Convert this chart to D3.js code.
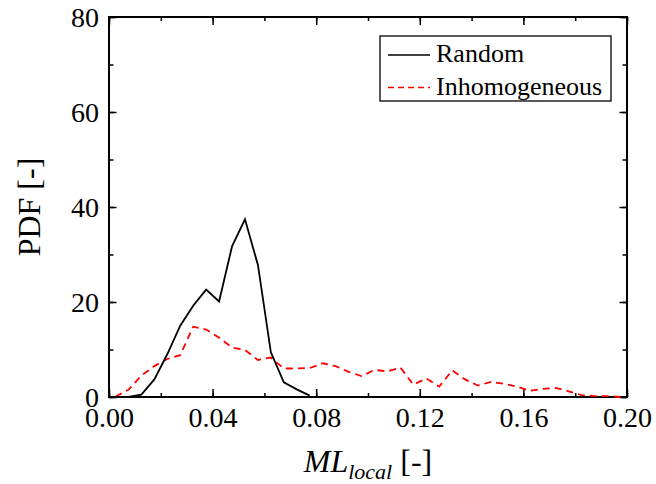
<!DOCTYPE html>
<html>
<head>
<meta charset="utf-8">
<script src="https://cdn.jsdelivr.net/npm/d3@7"></script>
<style>
  html, body { margin: 0; padding: 0; background: #fff; }
  svg { display: block; }
  text { font-family: "Liberation Serif", "Times New Roman", serif; fill: #000; }
</style>
</head>
<body>
<script>
// ---- data ----
const binCenters = d3.range(40).map(k => +(0.0025 + 0.005 * k).toFixed(4));
const randomValues = [0, 0, 0.5, 3.7, 9.0, 15.0, 19.2, 22.6, 20.1, 31.7, 37.4, 27.8, 9.4, 3.1, 1.6, 0.3];
const inhomValues = [0.1, 1.5, 4.5, 6.5, 8.0, 8.8, 14.8, 14.2, 12.5, 10.4,
                     9.9, 7.8, 8.3, 6.0, 6.0, 6.1, 7.1, 6.5, 5.3, 4.4,
                     5.7, 5.4, 6.2, 2.6, 3.9, 2.2, 5.6, 3.7, 2.4, 3.2,
                     2.8, 2.2, 1.3, 1.7, 1.9, 1.2, 0.4, 0.2, 0.2, 0.0];
const seriesNames = ["Random", "Inhomogeneous"];
const xTickValues = [0, 0.04, 0.08, 0.12, 0.16, 0.20];
const yTickValues = [0, 20, 40, 60, 80];

// ---- layout ----
const W = 656, H = 484;
const m = { left: 109, right: 656 - 627, top: 17, bottom: 484 - 397 };
const iw = W - m.left - m.right, ih = H - m.top - m.bottom;

const svg = d3.select("body").append("svg").attr("width", W).attr("height", H);
const g = svg.append("g").attr("transform", `translate(${m.left},${m.top})`);

const x = d3.scaleLinear().domain([0, 0.2]).range([0, iw]);
const y = d3.scaleLinear().domain([0, 80]).range([ih, 0]);

const xMinor = d3.range(0, 0.2001, 0.02);
const yMinor = d3.range(0, 80.001, 10);

function styleAxis(sel) {
  sel.attr("font-family", null);
  sel.select(".domain").remove();
  sel.selectAll("line").attr("stroke", "#000").attr("stroke-width", 1.5);
  sel.selectAll("text").style("font-size", "28px").style("font-family", "'Liberation Serif', serif");
}

// minor ticks
g.append("g").attr("transform", `translate(0,${ih})`)
  .call(d3.axisBottom(x).tickValues(xMinor).tickSize(-4).tickFormat(""))
  .call(styleAxis);
g.append("g")
  .call(d3.axisTop(x).tickValues(xMinor).tickSize(-4).tickFormat(""))
  .call(styleAxis);
g.append("g")
  .call(d3.axisLeft(y).tickValues(yMinor).tickSize(-4.5).tickFormat(""))
  .call(styleAxis);
g.append("g").attr("transform", `translate(${iw},0)`)
  .call(d3.axisRight(y).tickValues(yMinor).tickSize(-4.5).tickFormat(""))
  .call(styleAxis);

// major ticks with labels
const xa = g.append("g").attr("transform", `translate(0,${ih})`)
  .call(d3.axisBottom(x).tickValues(xTickValues).tickSize(-8).tickPadding(14).tickFormat(d3.format(".2f")))
  .call(styleAxis);
xa.selectAll("text").attr("dy", "0.71em").attr("y", 10);
g.append("g")
  .call(d3.axisTop(x).tickValues(xTickValues).tickSize(-8).tickFormat(""))
  .call(styleAxis);
const ya = g.append("g")
  .call(d3.axisLeft(y).tickValues(yTickValues).tickSize(-7.5).tickPadding(0).tickFormat(d3.format("d")))
  .call(styleAxis);
ya.selectAll("text").attr("x", -10).attr("dy", "0.34em");
g.append("g").attr("transform", `translate(${iw},0)`)
  .call(d3.axisRight(y).tickValues(yTickValues).tickSize(-7.5).tickFormat(""))
  .call(styleAxis);

// frame
g.append("rect").attr("x", 0).attr("y", 0).attr("width", iw).attr("height", ih)
  .attr("fill", "none").attr("stroke", "#000").attr("stroke-width", 2);

// lines
const line = d3.line().x(d => x(d[0])).y(d => y(d[1]));
const randomPts = randomValues.map((v, i) => [binCenters[i], v]);
const inhomPts = inhomValues.map((v, i) => [binCenters[i], v]);

g.append("path").datum(inhomPts).attr("d", line)
  .attr("fill", "none").attr("stroke", "#ff0000").attr("stroke-width", 1.8)
  .attr("stroke-dasharray", "7,5");
g.append("path").datum(randomPts).attr("d", line)
  .attr("fill", "none").attr("stroke", "#000").attr("stroke-width", 1.8);

// legend
const lg = svg.append("g");
lg.append("rect").attr("x", 380).attr("y", 36).attr("width", 231).attr("height", 65)
  .attr("fill", "#fff").attr("stroke", "#000").attr("stroke-width", 1.3);
const legendItems = [
  { name: seriesNames[0], color: "#000", dash: null, y: 55 },
  { name: seriesNames[1], color: "#ff0000", dash: "6,4", y: 87.5 }
];
legendItems.forEach(it => {
  lg.append("line").attr("x1", 388).attr("x2", 430).attr("y1", it.y).attr("y2", it.y)
    .attr("stroke", it.color).attr("stroke-width", 1.5)
    .attr("stroke-dasharray", it.dash);
  lg.append("text").attr("x", 436).attr("y", it.y + 7).style("font-size", "26px").text(it.name);
});

// axis titles
svg.append("text")
  .attr("transform", `translate(40,${m.top + ih / 2}) rotate(-90)`)
  .attr("text-anchor", "middle").style("font-size", "32px").text("PDF [-]");

const xt = svg.append("text").attr("x", m.left + iw / 2).attr("y", 472)
  .attr("text-anchor", "middle").style("font-size", "32px");
xt.append("tspan").style("font-style", "italic").text("ML");
xt.append("tspan").style("font-style", "italic").style("font-size", "22px").attr("dy", 7).text("local");
xt.append("tspan").attr("dy", -7).text(" [-]");
</script>
</body>
</html>
